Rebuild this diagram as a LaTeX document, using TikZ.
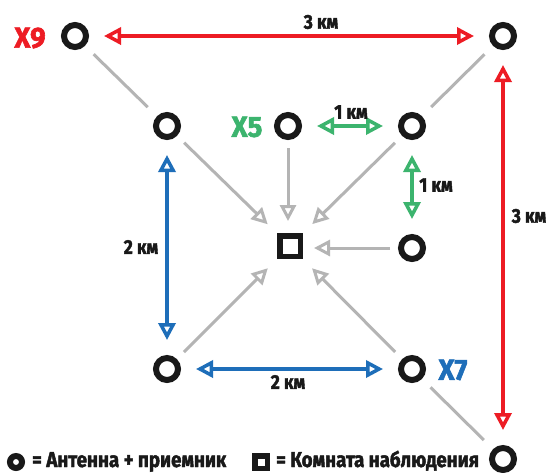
\documentclass[tikz,border=0pt]{standalone}
\usepackage{fontspec}
\newfontfamily\lab{Fira Sans}[FakeStretch=0.87, FakeBold=2]
\newfontfamily\xlab{Fira Sans}[FakeStretch=0.95, FakeBold=2]
\usetikzlibrary{arrows.meta}
\definecolor{cred}{RGB}{237,28,36}
\definecolor{cgreen}{RGB}{60,180,110}
\definecolor{cblue}{RGB}{30,110,185}
\definecolor{cgray}{RGB}{180,180,180}
\tikzset{
  ant/.style={circle, draw=black!90, line width=6pt, minimum size=22pt, inner sep=0pt},
  room/.style={rectangle, draw=black!90, line width=5.5pt, minimum size=20.5pt, inner sep=0pt},
  km/.style={font=\lab\bfseries\fontsize{20}{20}\selectfont, text=black!90, inner sep=0pt},
  xl/.style={font=\xlab\bfseries\fontsize{29}{29}\selectfont, inner sep=0pt},
  leg/.style={font=\lab\bfseries\fontsize{21.5}{21.5}\selectfont, text=black!90, inner sep=0pt},
  dist/.style={line width=3.5pt, {Triangle[open,length=17pt,width=17pt]}-{Triangle[open,length=17pt,width=17pt]}, shorten <=15pt, shorten >=15pt},
  garr/.style={cgray, line width=3pt, -{Triangle[open,length=16pt,width=16pt]}},
  gline/.style={cgray, line width=3pt},
}
\begin{document}
\begin{tikzpicture}[x=1pt,y=-1pt]
\useasboundingbox (0,0) rectangle (548,472);
\fill[white] (0,0) rectangle (548,472);
% antennas
\node[ant] (x9) at (75,36) {};
\node[ant] (tr) at (503,36) {};
\node[ant] (tl) at (167,126) {};
\node[ant] (x5) at (288,126) {};
\node[ant] (ti) at (412,126) {};
\node[room] (sq) at (290,246) {};
\node[ant] (mr) at (412,248) {};
\node[ant] (bl) at (167,369) {};
\node[ant] (x7) at (412,369) {};
\node[ant] (br) at (503,459) {};
% labels
\node[xl, text=cred] (lx9) at (30,38) {X9};
\node[xl, text=cgreen] (lx5) at (247,127) {X5};
\node[xl, text=cblue] (lx7) at (453,370) {X7};
% distance arrows
\draw[dist, cred] (x9) -- (tr);
\draw[dist, cred] (tr) -- (br);
\draw[dist, cgreen] (x5) -- (ti);
\draw[dist, cgreen] (ti) -- (mr);
\draw[dist, cblue] (tl) -- (bl);
\draw[dist, cblue] (bl) -- (x7);
\node[km] (k1) at (321,22) {3 км};
\node[km] (k2) at (529,216) {3 км};
\node[km] (k3) at (351,112) {1 км};
\node[km] (k4) at (436,185) {1 км};
\node[km] (k5) at (141,247) {2 км};
\node[km] (k6) at (288,382) {2 км};
% gray lines
\draw[gline, shorten <=12pt, shorten >=13pt] (x9) -- (tl);
\draw[gline, shorten <=12pt, shorten >=13pt] (tr) -- (ti);
\draw[gline, shorten <=12pt, shorten >=13pt] (x7) -- (br);
% gray arrows to room
\draw[garr, shorten <=10pt, shorten >=13pt] (tl) -- (sq);
\draw[garr, shorten <=8pt, shorten >=12pt] (x5.south) -- (sq.north -| x5.south);
\draw[garr, shorten <=10pt, shorten >=13pt] (ti) -- (sq);
\draw[garr, shorten <=8pt, shorten >=11pt] (mr.west) -- (sq.east |- mr.west);
\draw[garr, shorten <=10pt, shorten >=13pt] (bl) -- (sq);
\draw[garr, shorten <=10pt, shorten >=13pt] (x7) -- (sq);
% legend
\node[ant, line width=6pt, minimum size=12pt] (la) at (16,462) {};
\node[leg, anchor=base west] (lta) at (32,467) {= Антенна + приемник};
\node[room, line width=5.5pt, minimum size=12.5pt] (lr) at (261,462) {};
\node[leg, anchor=base west] (ltr) at (276,467) {= Комната наблюдения};
\end{tikzpicture}
\end{document}
